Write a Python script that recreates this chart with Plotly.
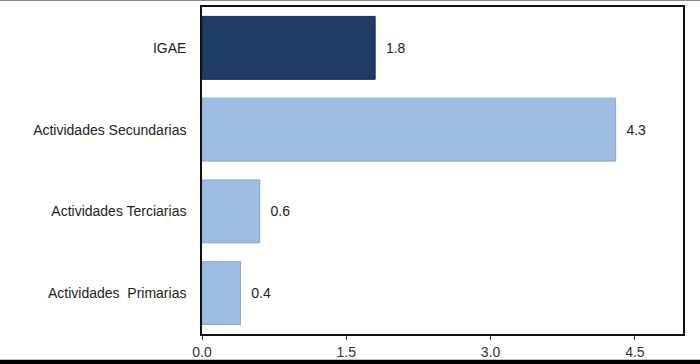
import plotly.graph_objects as go

categories = ["IGAE", "Actividades Secundarias", "Actividades Terciarias", "Actividades\u00a0 Primarias"]
values = [1.8, 4.3, 0.6, 0.4]
value_labels = ["1.8", "4.3", "0.6", "0.4"]
tick_vals = [0.0, 1.5, 3.0, 4.5]
tick_text = ["0.0", "1.5", "3.0", "4.5"]

colors = ["#1f3c66", "#9dbde3", "#9dbde3", "#9dbde3"]
line_colors = ["#17304f", "#86a7cf", "#86a7cf", "#86a7cf"]

fig = go.Figure()
fig.add_trace(go.Bar(
    y=categories,
    x=values,
    orientation="h",
    marker=dict(color=colors, line=dict(color=line_colors, width=1)),
    text=["\u00a0\u00a0" + t for t in value_labels],
    textposition="outside",
    textfont=dict(family="Liberation Sans, Arial", size=14, color="#222222"),
    width=0.77,
    cliponaxis=False,
    hoverinfo="skip",
))

fig.update_layout(
    width=700, height=364,
    margin=dict(l=202, r=17, t=7, b=30),
    paper_bgcolor="white",
    plot_bgcolor="white",
    showlegend=False,
    font=dict(family="Liberation Sans, Arial", size=14, color="#222222"),
    xaxis=dict(
        range=[0, 5],
        automargin=False,
        tickvals=tick_vals,
        ticktext=tick_text,
        ticks="outside",
        ticklen=4,
        tickcolor="#333333",
        ticklabelstandoff=0,
        showgrid=False,
        zeroline=False,
        showline=True,
        linecolor="#111111",
        linewidth=1.5,
        mirror=True,
        tickfont=dict(size=14, color="#333333"),
    ),
    yaxis=dict(
        autorange="reversed",
        automargin=False,
        showgrid=False,
        zeroline=False,
        showline=True,
        linecolor="#111111",
        linewidth=1.5,
        mirror=True,
        ticks="",
        ticklabelstandoff=11,
        tickfont=dict(size=14, color="#222222"),
    ),
    shapes=[
        dict(type="rect", xref="paper", yref="paper", x0=-0.5, x1=1.1,
             y0=-0.079, y1=-0.1, fillcolor="black", line=dict(width=0), layer="above"),
        dict(type="line", xref="paper", yref="paper", x0=-0.5, x1=1.1,
             y0=1.0214, y1=1.0214, line=dict(color="#888888", width=2)),
    ],
)

fig.write_html(
    "out.html",
    config={"displayModeBar": False},
    post_script="document.body.style.margin='0';document.body.style.padding='0';document.body.style.overflow='hidden';",
)
